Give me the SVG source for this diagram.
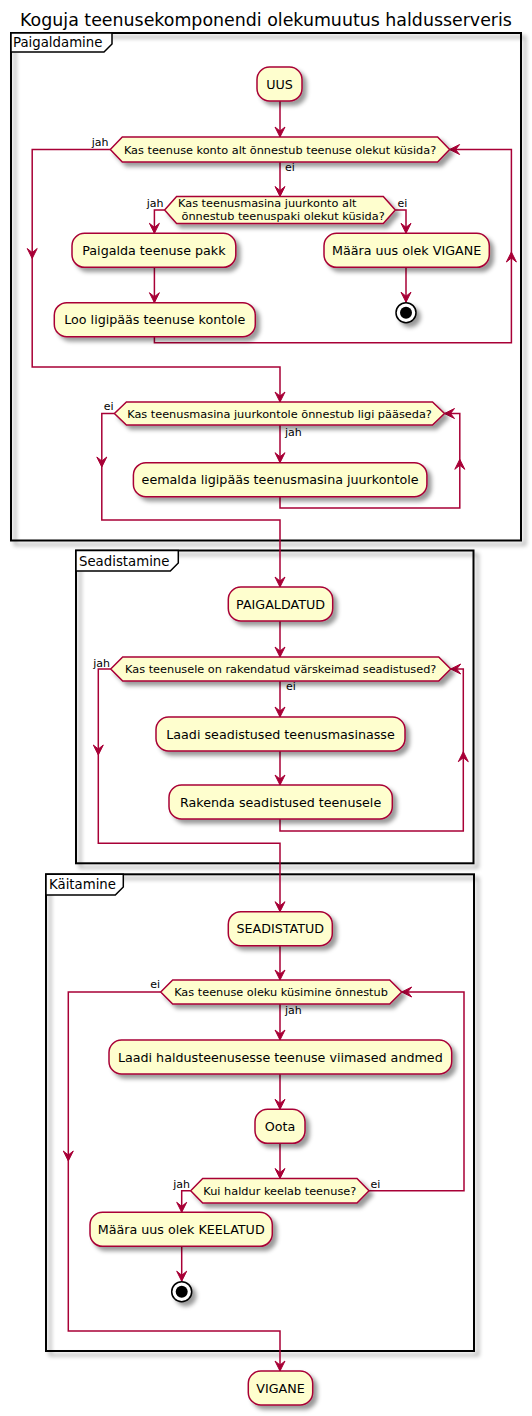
<svg xmlns="http://www.w3.org/2000/svg" xmlns:xlink="http://www.w3.org/1999/xlink" width="532" height="1416" viewBox="0 0 532 1416">
<defs>
<filter id="sh" x="-1" y="-1" width="300%" height="300%">
<feGaussianBlur result="b1" stdDeviation="2"/>
<feColorMatrix in="b1" result="b2" type="matrix" values="0 0 0 0 0 0 0 0 0 0 0 0 0 0 0 0 0 0 .4 0"/>
<feOffset dx="4" dy="4" in="b2" result="b3"/>
<feBlend in="SourceGraphic" in2="b3" mode="normal"/>
</filter>
<path id="ah" d="M0,0 L-5,-10 L0,-6 L5,-10 Z"/>
</defs>
<style>
.frame{fill:none;stroke:#000;stroke-width:2;filter:url(#sh)}
.tab{fill:#fff;stroke:#000;stroke-width:1.5}
.box{fill:#FEFECE;stroke:#A80036;stroke-width:1.5;filter:url(#sh)}
.stopo{fill:#fff;stroke:#000;stroke-width:1.5;filter:url(#sh)}
.stopi{fill:#000}
.ln{fill:none;stroke:#A80036;stroke-width:1.5}
.ah{fill:#A80036;stroke:#A80036;stroke-width:1}
text{font-family:"DejaVu Sans","Liberation Sans",sans-serif;fill:#000}
.title{font-size:17.4px;text-anchor:middle}
.ft{font-size:13.3px}
.bt{font-size:12.7px;text-anchor:middle}
.dt{font-size:11.3px;text-anchor:middle}
.dts{font-size:11.3px}
.lb{font-size:11px}
.lbe{font-size:11px;text-anchor:end}
</style>

<text class="title" x="266" y="26">Koguja teenusekomponendi olekumuutus haldusserveris</text>

<g id="frame-paigaldamine">
<rect class="frame" x="11" y="33" width="510" height="507.5"/>
<path class="tab" d="M11,33 H112 V44 L104,52 H11 Z"/>
<text class="ft" x="13" y="47">Paigaldamine</text>
</g>
<g id="frame-seadistamine">
<rect class="frame" x="76" y="550.5" width="397.5" height="312.8"/>
<path class="tab" d="M76,550.5 H178.3 V563 L170.3,571 H76 Z"/>
<text class="ft" x="79" y="565.5">Seadistamine</text>
</g>
<g id="frame-kaitamine">
<rect class="frame" x="46" y="874.3" width="428" height="476.7"/>
<path class="tab" d="M46,874.3 H123.3 V887 L115.3,895 H46 Z"/>
<text class="ft" x="49" y="889">Käitamine</text>
</g>

<g id="connectors">
<path class="ln" d="M280,101 V137"/>
<path class="ln" d="M110.3,149.5 H32.2 V367 H280 V402"/>
<path class="ln" d="M280,162 V196.5"/>
<path class="ln" d="M164.6,210 H154.4 V233.3"/>
<path class="ln" d="M395.3,210 H406 V233.3"/>
<path class="ln" d="M154.4,267.3 V302.7"/>
<path class="ln" d="M154.4,336.7 V342.7 H511.4 V149.5 H449.6"/>
<path class="ln" d="M406,267.3 V302.2"/>
<path class="ln" d="M114.4,413.5 H101.8 V520 H280 V587"/>
<path class="ln" d="M280,425 V462.7"/>
<path class="ln" d="M280,496.7 V508 H459.8 V413.5 H444.5"/>
<path class="ln" d="M280,621 V657"/>
<path class="ln" d="M110.7,669 H98.3 V843.3 H280 V911.7"/>
<path class="ln" d="M280,681 V717"/>
<path class="ln" d="M280,751 V785"/>
<path class="ln" d="M280,819 V831 H463.3 V669 H450.7"/>
<path class="ln" d="M280,945.7 V980"/>
<path class="ln" d="M160.7,992 H68.3 V1331 H280 V1371"/>
<path class="ln" d="M280,1004 V1040"/>
<path class="ln" d="M280,1074 V1109.3"/>
<path class="ln" d="M280,1143.3 V1178.5"/>
<path class="ln" d="M190.7,1190.7 H181.7 V1212.3"/>
<path class="ln" d="M369,1190.7 H464 V992 H401.7"/>
<path class="ln" d="M181.7,1246.7 V1281.2"/>

<use class="ah" xlink:href="#ah" transform="translate(280,137)"/>
<use class="ah" xlink:href="#ah" transform="translate(280,196.5)"/>
<use class="ah" xlink:href="#ah" transform="translate(154.4,233.3)"/>
<use class="ah" xlink:href="#ah" transform="translate(406,233.3)"/>
<use class="ah" xlink:href="#ah" transform="translate(154.4,302.7)"/>
<use class="ah" xlink:href="#ah" transform="translate(406,302.2)"/>
<use class="ah" xlink:href="#ah" transform="translate(32.2,258.5)"/>
<use class="ah" xlink:href="#ah" transform="translate(511.4,252) rotate(180)"/>
<use class="ah" xlink:href="#ah" transform="translate(449.6,149.5) rotate(90)"/>
<use class="ah" xlink:href="#ah" transform="translate(280,402)"/>
<use class="ah" xlink:href="#ah" transform="translate(101.8,467)"/>
<use class="ah" xlink:href="#ah" transform="translate(280,462.7)"/>
<use class="ah" xlink:href="#ah" transform="translate(459.8,459.3) rotate(180)"/>
<use class="ah" xlink:href="#ah" transform="translate(444.5,413.5) rotate(90)"/>
<use class="ah" xlink:href="#ah" transform="translate(280,587)"/>
<use class="ah" xlink:href="#ah" transform="translate(280,657)"/>
<use class="ah" xlink:href="#ah" transform="translate(98.3,755)"/>
<use class="ah" xlink:href="#ah" transform="translate(280,717)"/>
<use class="ah" xlink:href="#ah" transform="translate(280,785)"/>
<use class="ah" xlink:href="#ah" transform="translate(463.3,751.7) rotate(180)"/>
<use class="ah" xlink:href="#ah" transform="translate(450.7,669) rotate(90)"/>
<use class="ah" xlink:href="#ah" transform="translate(280,911.7)"/>
<use class="ah" xlink:href="#ah" transform="translate(280,980)"/>
<use class="ah" xlink:href="#ah" transform="translate(68.3,1161)"/>
<use class="ah" xlink:href="#ah" transform="translate(280,1040)"/>
<use class="ah" xlink:href="#ah" transform="translate(280,1109.3)"/>
<use class="ah" xlink:href="#ah" transform="translate(280,1178.5)"/>
<use class="ah" xlink:href="#ah" transform="translate(181.7,1212.3)"/>
<use class="ah" xlink:href="#ah" transform="translate(401.7,992) rotate(90)"/>
<use class="ah" xlink:href="#ah" transform="translate(181.7,1281.2)"/>
<use class="ah" xlink:href="#ah" transform="translate(280,1371)"/>

<text class="lbe" x="108.5" y="146">jah</text>
<text class="lb" x="285" y="171">ei</text>
<text class="lbe" x="163.5" y="207.3">jah</text>
<text class="lb" x="397.5" y="207.3">ei</text>
<text class="lbe" x="113.5" y="410">ei</text>
<text class="lb" x="285" y="435.5">jah</text>
<text class="lbe" x="110" y="667">jah</text>
<text class="lb" x="286" y="689.5">ei</text>
<text class="lbe" x="160" y="988">ei</text>
<text class="lb" x="285" y="1014">jah</text>
<text class="lbe" x="190" y="1187.5">jah</text>
<text class="lb" x="370.5" y="1187.5">ei</text>
</g>

<g id="n-uus"><rect class="box" x="257" y="67" width="45" height="34" rx="12.5"/><text class="bt" x="279.5" y="88.7">UUS</text></g>
<g id="n-d1"><polygon class="box" points="110.3,149.5 122.3,137 437.6,137 449.6,149.5 437.6,162 122.3,162"/><text class="dt" x="280" y="153.5">Kas teenuse konto alt õnnestub teenuse olekut küsida?</text></g>
<g id="n-d2"><polygon class="box" points="164.6,210 176.6,196.5 383.3,196.5 395.3,210 383.3,223.5 176.6,223.5"/><text class="dts" x="178" y="207.3">Kas teenusmasina juurkonto alt</text><text class="dts" x="181.5" y="220">õnnestub teenuspaki olekut küsida?</text></g>
<g id="n-paigalda"><rect class="box" x="72" y="233.3" width="163.8" height="34" rx="12.5"/><text class="bt" x="153.9" y="255">Paigalda teenuse pakk</text></g>
<g id="n-loo"><rect class="box" x="54.3" y="302.7" width="201" height="34" rx="12.5"/><text class="bt" x="154.8" y="324.4">Loo ligipääs teenuse kontole</text></g>
<g id="n-maara-vigane"><rect class="box" x="324" y="233.3" width="165.3" height="34" rx="12.5"/><text class="bt" x="406.6" y="255">Määra uus olek VIGANE</text></g>
<g id="n-stop1"><circle class="stopo" cx="406" cy="312.7" r="10"/><circle class="stopi" cx="406" cy="312.7" r="6"/></g>
<g id="n-d3"><polygon class="box" points="114.4,413.5 126.4,402 432.5,402 444.5,413.5 432.5,425 126.4,425"/><text class="dt" x="279.5" y="417.5">Kas teenusmasina juurkontole õnnestub ligi pääseda?</text></g>
<g id="n-eemalda"><rect class="box" x="133.4" y="462.7" width="293.5" height="34" rx="12.5"/><text class="bt" x="280.1" y="484.4">eemalda ligipääs teenusmasina juurkontole</text></g>

<g id="n-paigaldatud"><rect class="box" x="228.3" y="587" width="104.4" height="34" rx="12.5"/><text class="bt" x="280.5" y="608.7">PAIGALDATUD</text></g>
<g id="n-d4"><polygon class="box" points="110.7,669 122.7,657 438.7,657 450.7,669 438.7,681 122.7,681"/><text class="dt" x="280.7" y="673">Kas teenusele on rakendatud värskeimad seadistused?</text></g>
<g id="n-laadi-seadistused"><rect class="box" x="156" y="717" width="249" height="34" rx="12.5"/><text class="bt" x="280.5" y="738.7">Laadi seadistused teenusmasinasse</text></g>
<g id="n-rakenda"><rect class="box" x="169" y="785" width="223.3" height="34" rx="12.5"/><text class="bt" x="280.6" y="806.7">Rakenda seadistused teenusele</text></g>

<g id="n-seadistatud"><rect class="box" x="228.3" y="911.7" width="104" height="34" rx="12.5"/><text class="bt" x="280.3" y="933.4">SEADISTATUD</text></g>
<g id="n-d5"><polygon class="box" points="160.7,992 172.7,980 389.7,980 401.7,992 389.7,1004 172.7,1004"/><text class="dt" x="281" y="996">Kas teenuse oleku küsimine õnnestub</text></g>
<g id="n-laadi-haldus"><rect class="box" x="109" y="1040" width="342.7" height="34" rx="12.5"/><text class="bt" x="280.3" y="1061.7">Laadi haldusteenusesse teenuse viimased andmed</text></g>
<g id="n-oota"><rect class="box" x="255" y="1109.3" width="50" height="34" rx="12.5"/><text class="bt" x="280" y="1131">Oota</text></g>
<g id="n-d6"><polygon class="box" points="190.7,1190.7 202.7,1178.5 357,1178.5 369,1190.7 357,1203 202.7,1203"/><text class="dt" x="279.8" y="1194.7">Kui haldur keelab teenuse?</text></g>
<g id="n-maara-keelatud"><rect class="box" x="90" y="1212.3" width="182.3" height="34" rx="12.5"/><text class="bt" x="181.2" y="1234">Määra uus olek KEELATUD</text></g>
<g id="n-stop2"><circle class="stopo" cx="181.7" cy="1291.7" r="10"/><circle class="stopi" cx="181.7" cy="1291.7" r="6"/></g>

<g id="n-vigane"><rect class="box" x="248.3" y="1371" width="64.4" height="34" rx="12.5"/><text class="bt" x="280.5" y="1392.7">VIGANE</text></g>
</svg>
